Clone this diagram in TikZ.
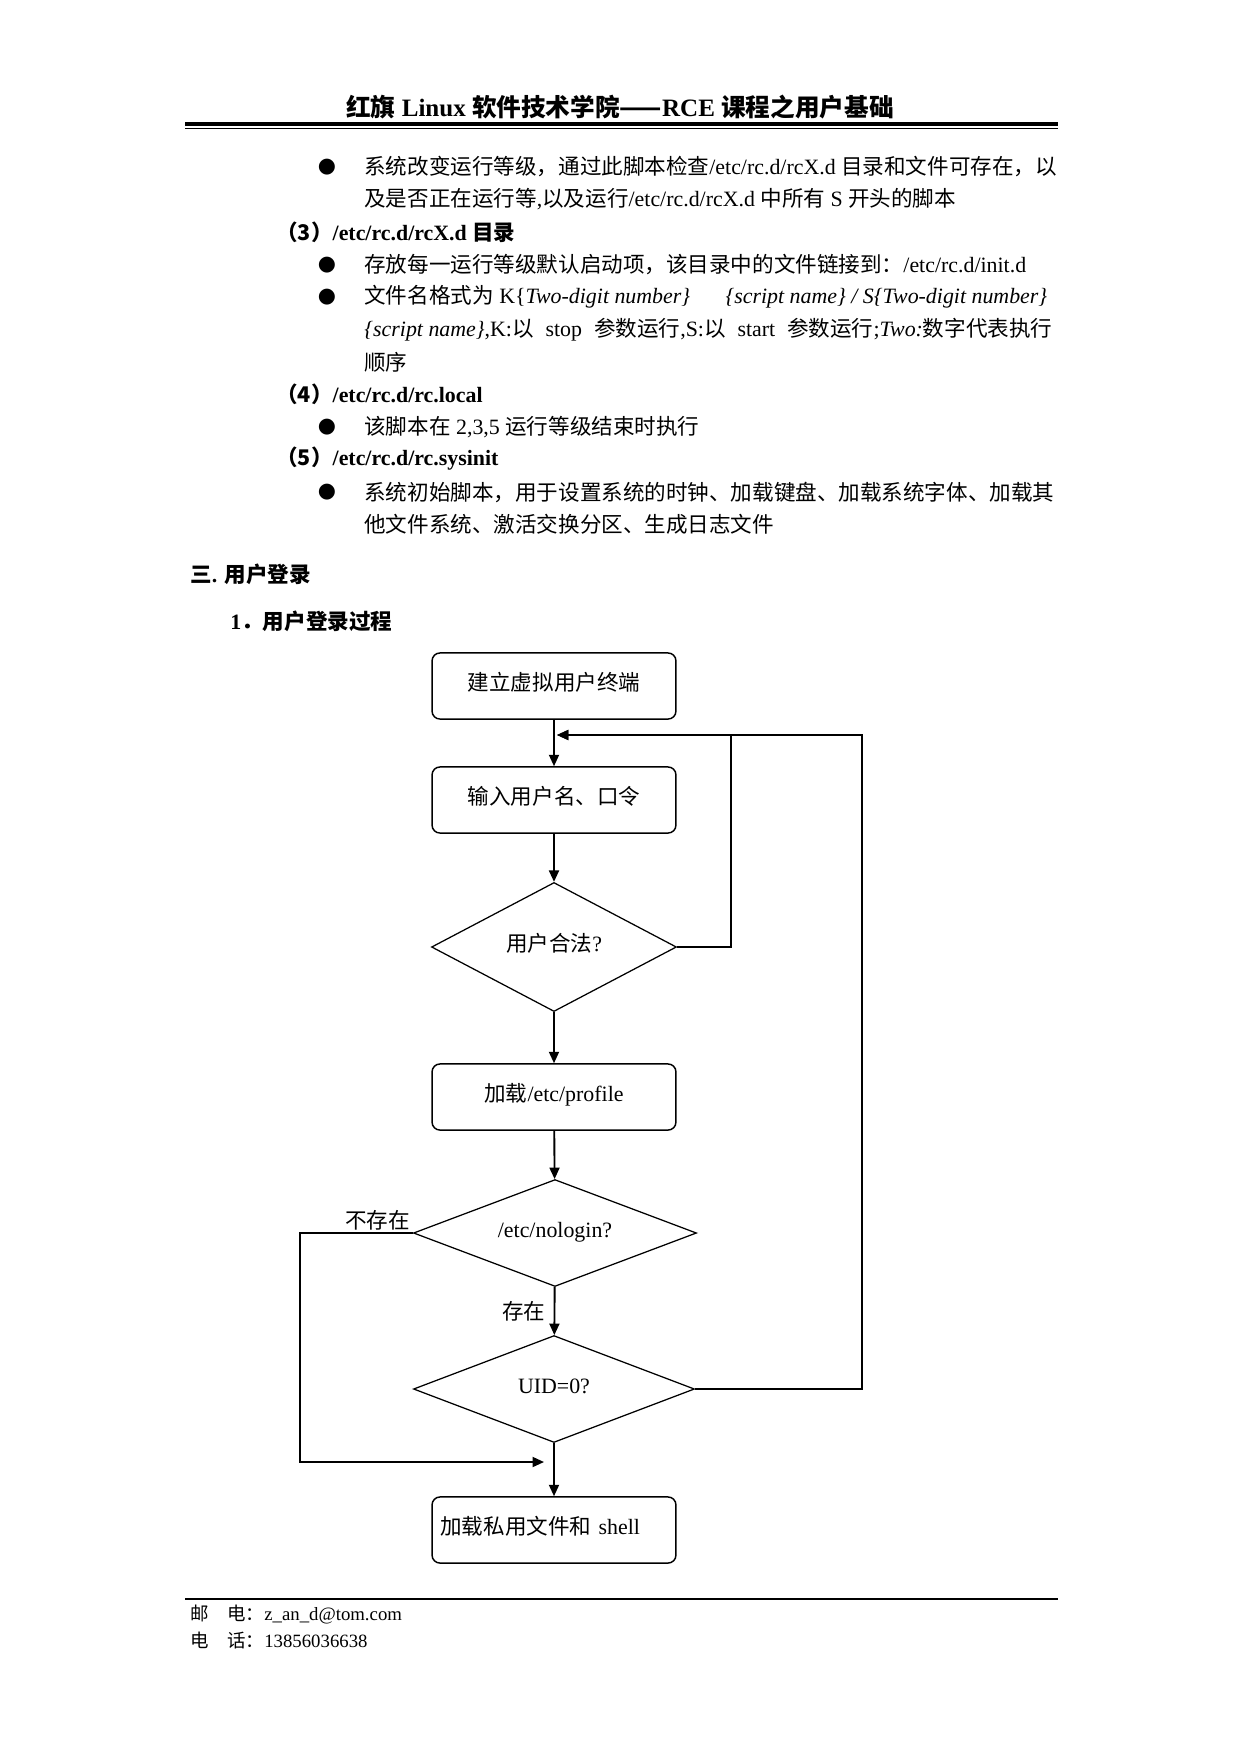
\documentclass[tikz,border=0pt]{standalone}
\usepackage{fontspec}
\setmainfont{Liberation Serif}
\newfontfamily\cjkfont[Scale=0.985]{Noto Sans CJK SC}
\newfontfamily\dotfont{DejaVu Sans}
\usetikzlibrary{shapes.geometric,arrows.meta}

\newcommand{\zh}[1]{{\cjkfont #1}}
\newcommand{\bodysize}{\fontsize{10.5pt}{12pt}\selectfont}
\newcommand{\footsize}{\fontsize{9pt}{11pt}\selectfont}

\tikzset{
  bodyline/.style={anchor=west, inner sep=0pt, font=\bodysize},
  headline/.style={anchor=west, inner sep=0pt, font=\bodysize\bfseries},
  footline/.style={anchor=west, inner sep=0pt, font=\footsize},
  dot/.style={inner sep=0pt, font=\dotfont\fontsize{10pt}{10pt}\selectfont},
  flowbox/.style={draw, rounded corners=3.8pt, line width=0.7pt,
    minimum width=117pt, minimum height=31.7pt, inner xsep=4pt,
    text height=0.9em, text depth=0.5em},
  decision/.style={draw, diamond, line width=0.6pt, inner sep=0pt,
    text height=0.9em, text depth=0.5em},
  flowline/.style={line width=0.9pt, -{Triangle[length=5.5pt,width=4.8pt]}},
}

\begin{document}
\begin{tikzpicture}[x=0.4797pt, y=-0.4797pt]
   \useasboundingbox (0,0) rectangle (1241,1754);
   % page header
   \node[inner sep=0pt, font=\fontsize{12pt}{14pt}\selectfont\bfseries] (title) at (620,107)
     {\zh{红旗} Linux \zh{软件技术学院——}RCE \zh{课程之用户基础}};
   \draw[line width=1.9pt] (185,124) -- (1058,124);
   \draw[line width=0.6pt] (185,128.8) -- (1058,128.8);
   % text above the chart
   \node[dot] (d1) at (327,167) {●};
   \node[bodyline] (l1) at (364,167) {\zh{系统改变运行等级，通过此脚本检查}/etc/rc.d/rcX.d \zh{目录和文件可存在，以}};
   \node[bodyline] (l2) at (364,199) {\zh{及是否正在运行等},\zh{以及运行}/etc/rc.d/rcX.d \zh{中所有} S \zh{开头的脚本}};
   \node[headline] (h3) at (276,232) {\zh{（3）}/etc/rc.d/rcX.d \zh{目录}};
   \node[dot] (d2) at (327,265) {●};
   \node[bodyline] (l3) at (364,265) {\zh{存放每一运行等级默认启动项，该目录中的文件链接到：}/etc/rc.d/init.d};
   \node[dot] (d3) at (327,297) {●};
   \node[bodyline] (l4) at (364,297) {\zh{文件名格式为} K\{\textit{Two-digit number\}}\hspace{17pt}\textit{\{script name\} / S\{Two-digit number\}}};
   \node[bodyline] (l5) at (364,330) {\hbox to 330pt{\textit{\{script\kern0.25em name\}},K:\zh{以} stop \zh{参数运行},S:\zh{以} start \zh{参数运行};\textit{Two:}\zh{数字代表执行}}};
   \node[bodyline] (l6) at (364,362) {\zh{顺序}};
   \node[headline] (h4) at (276,394) {\zh{（4）}/etc/rc.d/rc.local};
   \node[dot] (d4) at (327,427) {●};
   \node[bodyline] (l7) at (364,427) {\zh{该脚本在} 2,3,5 \zh{运行等级结束时执行}};
   \node[headline] (h5) at (276,459) {\zh{（5）}/etc/rc.d/rc.sysinit};
   \node[dot] (d5) at (327,492) {●};
   \node[bodyline] (l8) at (364,492) {\zh{系统初始脚本，用于设置系统的时钟、加载键盘、加载系统字体、加载其}};
   \node[bodyline] (l9) at (364,524) {\zh{他文件系统、激活交换分区、生成日志文件}};
   \node[headline] (sec) at (190,574) {\zh{三}. \zh{用户登录}};
   \node[headline] (subsec) at (230,621) {1\zh{．用户登录过程}};
   % flow chart
   \begin{scope}[every node/.style={font=\bodysize}]
    \node[flowbox] (term) at (554,686) {\zh{建立虚拟用户终端}};
    \node[flowbox] (input) at (554,800) {\zh{输入用户名、口令}};
    \node[decision, aspect=1.9, minimum width=117.5pt, minimum height=61.9pt] (legal) at (554,947) {\zh{用户合法}?};
    \node[flowbox] (profile) at (554,1097) {\zh{加载}/etc/profile};
    \node[decision, aspect=2.64, minimum width=135.8pt, minimum height=51.3pt] (nologin) at (555,1233) {/etc/nologin?};
    \node[decision, aspect=2.63, minimum width=134.8pt, minimum height=51.3pt] (uid) at (554,1389) {UID=0?};
    \node[flowbox, text width=109pt, align=left] (shell) at (554,1530) {\zh{加载私用文件和} shell};
   \end{scope}
   \coordinate (loopin) at (557,735);
   \coordinate (legalbend) at (731,735);
   \coordinate (uidbend) at (862,735);
   \coordinate (skipbend) at (300,1462);
   \coordinate (skipin) at (544,1462);
   \begin{scope}[every edge/.style={draw, flowline}]
    \draw (term) edge (input);
    \draw (input) edge (legal);
    \draw (legal) edge (profile);
    \draw (profile) edge (nologin);
    \draw (nologin) edge node[left, inner sep=4pt, font=\bodysize]{\zh{存在}} (uid);
    \draw (uid) edge (shell);
   \end{scope}
   \draw[flowline] (legal.east) -| (legalbend) -- (loopin);
   \draw[flowline] (uid.east) -| (uidbend) -- (loopin);
   \draw[flowline] (nologin.west) node[anchor=south east, inner sep=1pt, font=\bodysize]{\zh{不存在}}
     -| (skipbend) -- (skipin);
   % page footer
   \draw[line width=0.6pt] (185,1599) -- (1058,1599);
   \node[footline] (mail) at (190,1615) {\zh{邮\quad 电：}z\_an\_d@tom.com};
   \node[footline] (phone) at (190,1640) {\zh{电\quad 话：}13856036638};
\end{tikzpicture}
\end{document}
